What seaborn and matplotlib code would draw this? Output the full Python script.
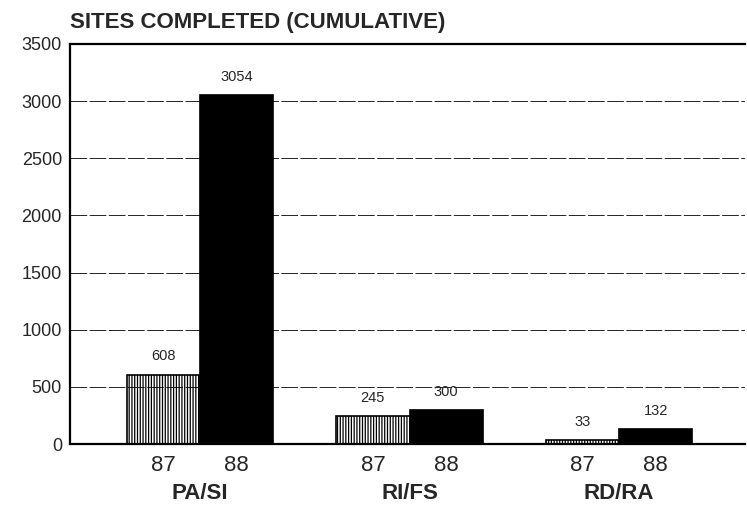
import matplotlib
matplotlib.use("Agg")
import matplotlib.pyplot as plt
import seaborn as sns
import pandas as pd

categories = ["PA/SI", "RI/FS", "RD/RA"]
years = ["87", "88"]
values_87 = [608, 245, 33]
values_88 = [3054, 300, 132]
yticks = [0, 500, 1000, 1500, 2000, 2500, 3000, 3500]
title = "SITES COMPLETED (CUMULATIVE)"

df = pd.DataFrame({
    "category": categories * 2,
    "year": [years[0]] * 3 + [years[1]] * 3,
    "sites": values_87 + values_88,
})

sns.set_theme(style="white")
plt.rcParams["font.family"] = ["Liberation Sans", "DejaVu Sans"]
plt.rcParams["hatch.linewidth"] = 0.9

fig = plt.figure(figsize=(7.47, 5.17), dpi=100)
ax = fig.add_axes([0.094, 0.141, 0.903, 0.774])

sns.barplot(data=df, x="category", y="sites", hue="year", order=categories,
            hue_order=years, palette=["white", "black"], width=0.7,
            edgecolor="black", linewidth=1.2, ax=ax, legend=False, saturation=1)

# hatching on 87 bars
for cont, yr in zip(ax.containers, years):
    for patch in cont:
        if yr == "87":
            patch.set_hatch("||||||")
            patch.set_facecolor("white")
    labels = [str(v) for v in (values_87 if yr == "87" else values_88)]
    ax.bar_label(cont, labels=labels, padding=8, fontsize=10.5)

ax.set_ylim(0, 3500)
ax.set_xlim(-0.62, 2.6)
ax.set_yticks(yticks)
ax.set_yticklabels([str(t) for t in yticks], fontsize=13)
ax.tick_params(axis="y", length=0, pad=6)

# year tick labels under bars, category labels below
pos = []
labs = []
for i in range(len(categories)):
    for j, yr in enumerate(years):
        pos.append(i + (j - 0.5) * 0.35)
        labs.append(yr)
ax.set_xticks(pos)
ax.set_xticklabels(labs, fontsize=16)
ax.tick_params(axis="x", length=0, pad=8)
ax.set_xticks(range(len(categories)), minor=True)
ax.set_xticklabels(categories, minor=True, fontsize=16, fontweight="bold")
ax.tick_params(axis="x", which="minor", length=0, pad=28)

ax.yaxis.grid(True, color="black", linewidth=0.6, linestyle=(0, (20, 3)))
ax.set_axisbelow(False)
ax.set_xlabel("")
ax.set_ylabel("")

for s in ["left", "top", "bottom"]:
    ax.spines[s].set_visible(True)
    ax.spines[s].set_color("black")
    ax.spines[s].set_linewidth(1.6)
ax.spines["right"].set_visible(False)

fig.text(0.094, 0.937, title, fontsize=16, fontweight="bold", ha="left", va="bottom")

fig.savefig("out.png", dpi=100)
